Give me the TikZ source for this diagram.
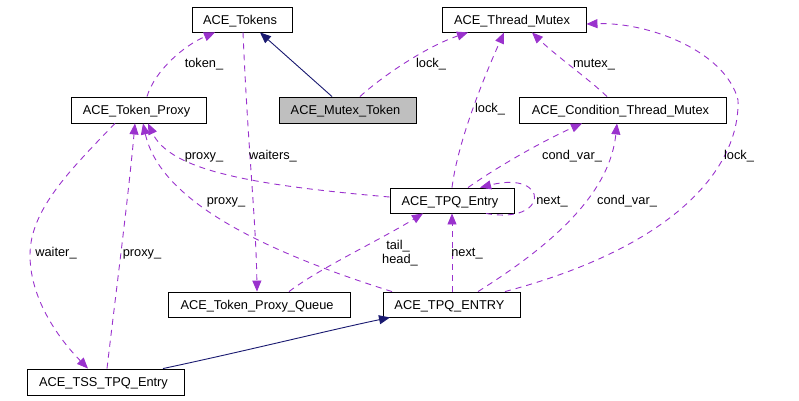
\documentclass[tikz,border=0pt]{standalone}
\usepackage{fontspec}
\setmainfont{Liberation Sans}
\usetikzlibrary{arrows.meta}
\definecolor{edgepurple}{RGB}{154,50,205}
\definecolor{inhblue}{RGB}{25,25,112}
\definecolor{boxgrey}{RGB}{191,191,191}
\tikzset{
  cls/.style={draw=black, line width=0.9pt, inner sep=0pt, minimum height=25pt,
    font=\fontsize{12.8}{14}\selectfont, text height=9pt, text depth=0pt,
    fill=white, execute at end node={\hspace*{4pt}}},
  usage/.style={draw=edgepurple, line width=0.9pt, dash pattern=on 6pt off 5pt,
    -{Triangle[length=11pt,width=9pt,fill=edgepurple]}},
  inherit/.style={draw=inhblue, line width=0.9pt,
    -{Triangle[length=11pt,width=9pt,fill=inhblue]}},
  lbl/.style={inner sep=0pt, font=\fontsize{12.8}{14}\selectfont,
    text height=9pt, text depth=0pt},
}
\begin{document}
\begin{tikzpicture}[x=1pt,y=-1pt]
\useasboundingbox (0,0) rectangle (799,400);
% class boxes
\node[cls, minimum width=100pt] (tokens)   at (242,19.5) {ACE\_Tokens};
\node[cls, minimum width=144pt] (tmutex)   at (514,19.5) {ACE\_Thread\_Mutex};
\node[cls, minimum width=135pt, minimum height=26pt] (proxy) at (138.5,110) {ACE\_Token\_Proxy};
\node[cls, minimum width=137pt, minimum height=26pt, fill=boxgrey] (mtoken) at (347.5,110) {ACE\_Mutex\_Token};
\node[cls, minimum width=207pt, minimum height=26pt] (condtm) at (622.5,110) {ACE\_Condition\_Thread\_Mutex};
\node[cls, minimum width=124pt] (tpqe)     at (452,200.5) {ACE\_TPQ\_Entry};
\node[cls, minimum width=182pt] (tpq)      at (259,304.5) {ACE\_Token\_Proxy\_Queue};
\node[cls, minimum width=137pt] (TPQENTRY) at (451.5,304.5) {ACE\_TPQ\_ENTRY};
\node[cls, minimum width=157pt, minimum height=26pt] (tss) at (105.5,382) {ACE\_TSS\_TPQ\_Entry};

% inheritance
\draw[inherit] ([xshift=-15.5pt]mtoken.north) -- ([xshift=18pt]tokens.south);
\draw[inherit] ([xshift=57.5pt]tss.north) .. controls (250,350) and (330,330) .. ([xshift=-61.5pt]TPQENTRY.south);

% usage edges
\draw[usage] ([xshift=8.5pt]proxy.north) .. controls (155,70) and (185,45) .. ([xshift=-27pt]tokens.south);
\draw[usage] ([xshift=12.5pt]mtoken.north) .. controls (380,78) and (425,47) .. ([xshift=-46pt]tmutex.south);
\draw[usage] ([xshift=1pt]tokens.south) .. controls (248,150) and (256,220) .. ([xshift=-2pt]tpq.north);
\draw[usage] ([yshift=3.5pt]tpqe.west) .. controls (250,185) and (170,170) .. ([xshift=9.5pt]proxy.south);
\draw[usage] ([xshift=-59.5pt]TPQENTRY.north) .. controls (260,250) and (160,200) .. ([xshift=4.5pt]proxy.south);
\draw[usage] ([xshift=1.5pt]tss.north) .. controls (115,300) and (128,200) .. ([xshift=-3.5pt]proxy.south);
\draw[usage] ([xshift=-23.5pt]proxy.south) .. controls (70,170) and (30,210) .. (30,255)
   .. controls (30,300) and (60,340) .. ([xshift=-17.5pt]tss.north);
\draw[usage] (tpqe.north) .. controls (458,140) and (485,75) .. ([xshift=-10pt]tmutex.south);
\draw[usage] ([xshift=-15.5pt]condtm.north) .. controls (590,80) and (555,55) .. ([xshift=18pt]tmutex.south);
\draw[usage] ([xshift=16pt]tpqe.north) .. controls (500,165) and (545,140) .. ([xshift=-40.5pt]condtm.south);
\draw[usage] ([xshift=26.5pt]TPQENTRY.north) .. controls (560,240) and (610,190) .. ([xshift=-5.5pt]condtm.south);
\draw[usage] ([xshift=53.5pt]TPQENTRY.north) .. controls (680,245) and (740,165) .. (738,100)
   .. controls (726,52) and (650,22) .. ([yshift=-4.5pt]tmutex.east);
\draw[usage] ([xshift=34pt]tpqe.south) .. controls (550,225) and (550,170) .. ([xshift=28pt]tpqe.north);
\draw[usage] ([xshift=0.5pt]TPQENTRY.north) -- (tpqe.south);
\draw[usage] ([xshift=30pt]tpq.north) .. controls (320,268) and (380,240) .. ([xshift=-29pt]tpqe.south);

% edge labels
\node[lbl] (ltoken)    at (204,63)  {token\_};
\node[lbl] (llock1)    at (431,63)  {lock\_};
\node[lbl] (lmutex)    at (594,63)  {mutex\_};
\node[lbl] (llock2)    at (490,108) {lock\_};
\node[lbl] (lproxy1)   at (204,155) {proxy\_};
\node[lbl] (lwaiters)  at (273,155) {waiters\_};
\node[lbl] (lcondvar1) at (572,155) {cond\_var\_};
\node[lbl] (llock3)    at (739,155) {lock\_};
\node[lbl] (lproxy2)   at (226,200) {proxy\_};
\node[lbl] (lnext1)    at (552,200) {next\_};
\node[lbl] (lcondvar2) at (627,200) {cond\_var\_};
\node[lbl] (lwaiter)   at (56,252)  {waiter\_};
\node[lbl] (lproxy3)   at (142,252) {proxy\_};
\node[lbl] (lnext2)    at (467,252) {next\_};
\node[lbl] (ltail)     at (398,245) {tail\_};
\node[lbl] (lhead)     at (400,259) {head\_};
\end{tikzpicture}
\end{document}
